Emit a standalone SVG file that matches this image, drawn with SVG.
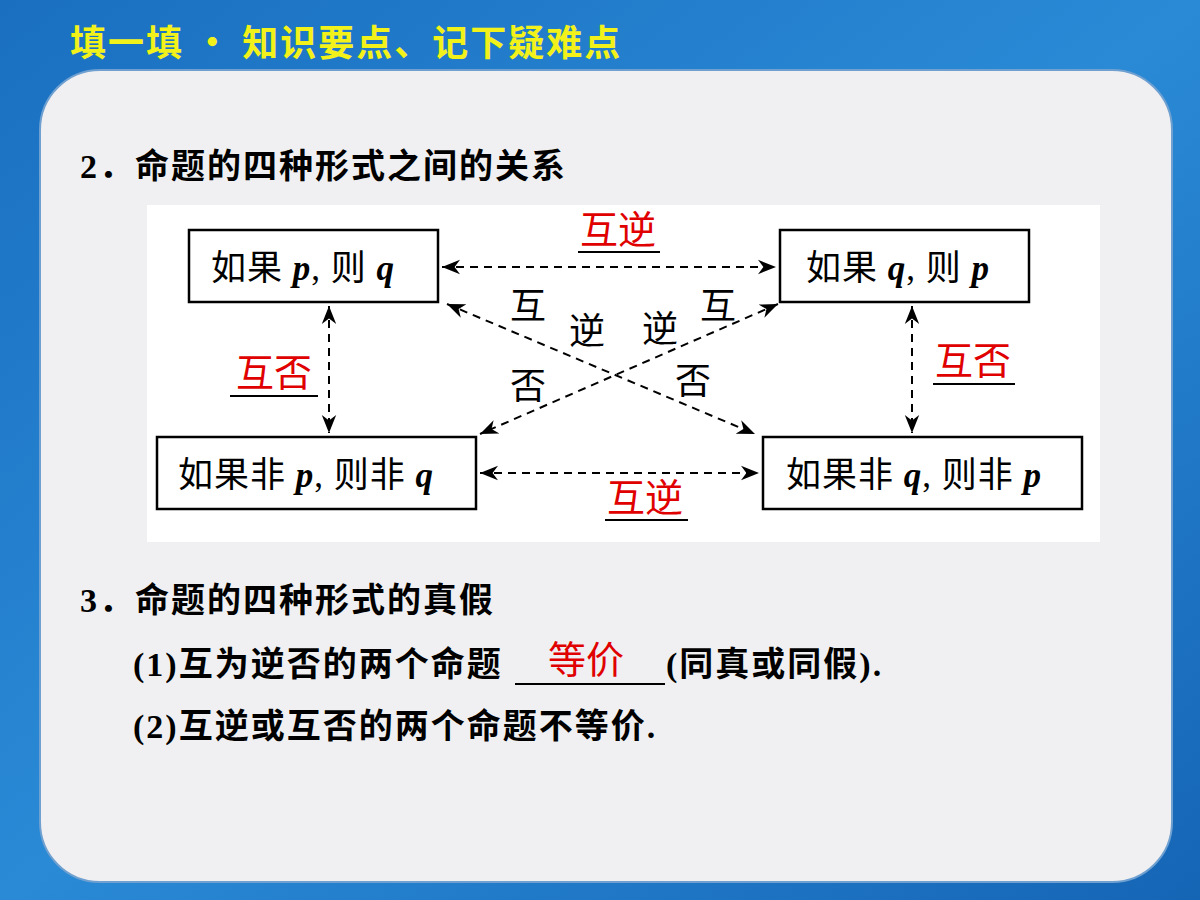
<svg xmlns="http://www.w3.org/2000/svg" width="1200" height="900" viewBox="0 0 1200 900">
<defs>
<linearGradient id="bg" x1="0" y1="0" x2="1" y2="1"><stop offset="0" stop-color="#1a6fc0"/><stop offset="0.5" stop-color="#2a8ad6"/><stop offset="1" stop-color="#1565b5"/></linearGradient>
<marker id="ah" viewBox="0 0 10 10" refX="10" refY="5" markerWidth="9" markerHeight="9" orient="auto-start-reverse"><path d="M0,1 L10,5 L0,9 L3,5 Z" fill="#000"/></marker>
</defs>
<style>
.t{font-family:"Liberation Serif","Noto Sans CJK SC",serif;font-size:34px;fill:#000}
.n{font-size:35px;letter-spacing:1px}
.b{font-weight:bold;letter-spacing:2px}
.r{fill:#e00000;font-size:38px}
.k{font-size:36px}
.box{fill:#fff;stroke:#000;stroke-width:2.5}
.c{stroke:#000;stroke-width:2;stroke-dasharray:8,6;fill:none;marker-start:url(#ah);marker-end:url(#ah)}
.u{stroke:#000;stroke-width:2}
</style>
<rect width="1200" height="900" fill="url(#bg)"/>
<text x="70" y="56" font-family="Noto Sans CJK SC,sans-serif" font-size="36" font-weight="bold" fill="#f2f21a" letter-spacing="2">填一填 · 知识要点、记下疑难点</text>
<rect x="40" y="70" width="1132" height="812" rx="60" fill="#f0f0f2" stroke="#6fa0d0" stroke-width="2"/>
<text x="80" y="178" class="t b">2．命题的四种形式之间的关系</text>
<rect x="147" y="205" width="953" height="337" fill="#fff"/>
<g id="connectors">
<line x1="442" y1="267" x2="776" y2="267" class="c"/>
<line x1="480" y1="473" x2="759" y2="473" class="c"/>
<line x1="329" y1="306" x2="329" y2="433" class="c"/>
<line x1="912" y1="306" x2="912" y2="433" class="c"/>
<line x1="447" y1="304" x2="755" y2="434" class="c"/>
<line x1="778" y1="304" x2="480" y2="434" class="c"/>
</g>
<g id="n1"><rect x="189" y="230" width="249" height="72" class="box"/><text x="211" y="280" class="t n">如果 <tspan font-style="italic" font-weight="bold">p</tspan>, 则 <tspan font-style="italic" font-weight="bold">q</tspan></text></g>
<g id="n2"><rect x="780" y="230" width="249" height="72" class="box"/><text x="806" y="280" class="t n">如果 <tspan font-style="italic" font-weight="bold">q</tspan>, 则 <tspan font-style="italic" font-weight="bold">p</tspan></text></g>
<g id="n3"><rect x="157" y="437" width="319" height="72" class="box"/><text x="178" y="487" class="t n">如果非 <tspan font-style="italic" font-weight="bold">p</tspan>, 则非 <tspan font-style="italic" font-weight="bold">q</tspan></text></g>
<g id="n4"><rect x="763" y="437" width="319" height="72" class="box"/><text x="786" y="487" class="t n">如果非 <tspan font-style="italic" font-weight="bold">q</tspan>, 则非 <tspan font-style="italic" font-weight="bold">p</tspan></text></g>
<g id="labels">
<text x="580" y="243" class="t r">互逆</text><line x1="578" y1="252" x2="660" y2="252" class="u"/>
<text x="236" y="386" class="t r">互否</text><line x1="230" y1="396" x2="318" y2="396" class="u"/>
<text x="935" y="374" class="t r">互否</text><line x1="933" y1="384" x2="1015" y2="384" class="u"/>
<text x="607" y="511" class="t r">互逆</text><line x1="605" y1="520" x2="688" y2="520" class="u"/>
<text x="510" y="319" class="t k">互</text>
<text x="569" y="344" class="t k">逆</text>
<text x="510" y="399" class="t k">否</text>
<text x="642" y="342" class="t k">逆</text>
<text x="700" y="319" class="t k">互</text>
<text x="675" y="394" class="t k">否</text>
</g>
<text x="80" y="612" class="t b">3．命题的四种形式的真假</text>
<text x="133" y="676" class="t b">(1)互为逆否的两个命题</text>
<line x1="515" y1="684" x2="665" y2="684" class="u"/>
<text x="548" y="673" class="t r">等价</text>
<text x="666" y="676" class="t b">(同真或同假).</text>
<text x="133" y="738" class="t b">(2)互逆或互否的两个命题不等价.</text>
</svg>
